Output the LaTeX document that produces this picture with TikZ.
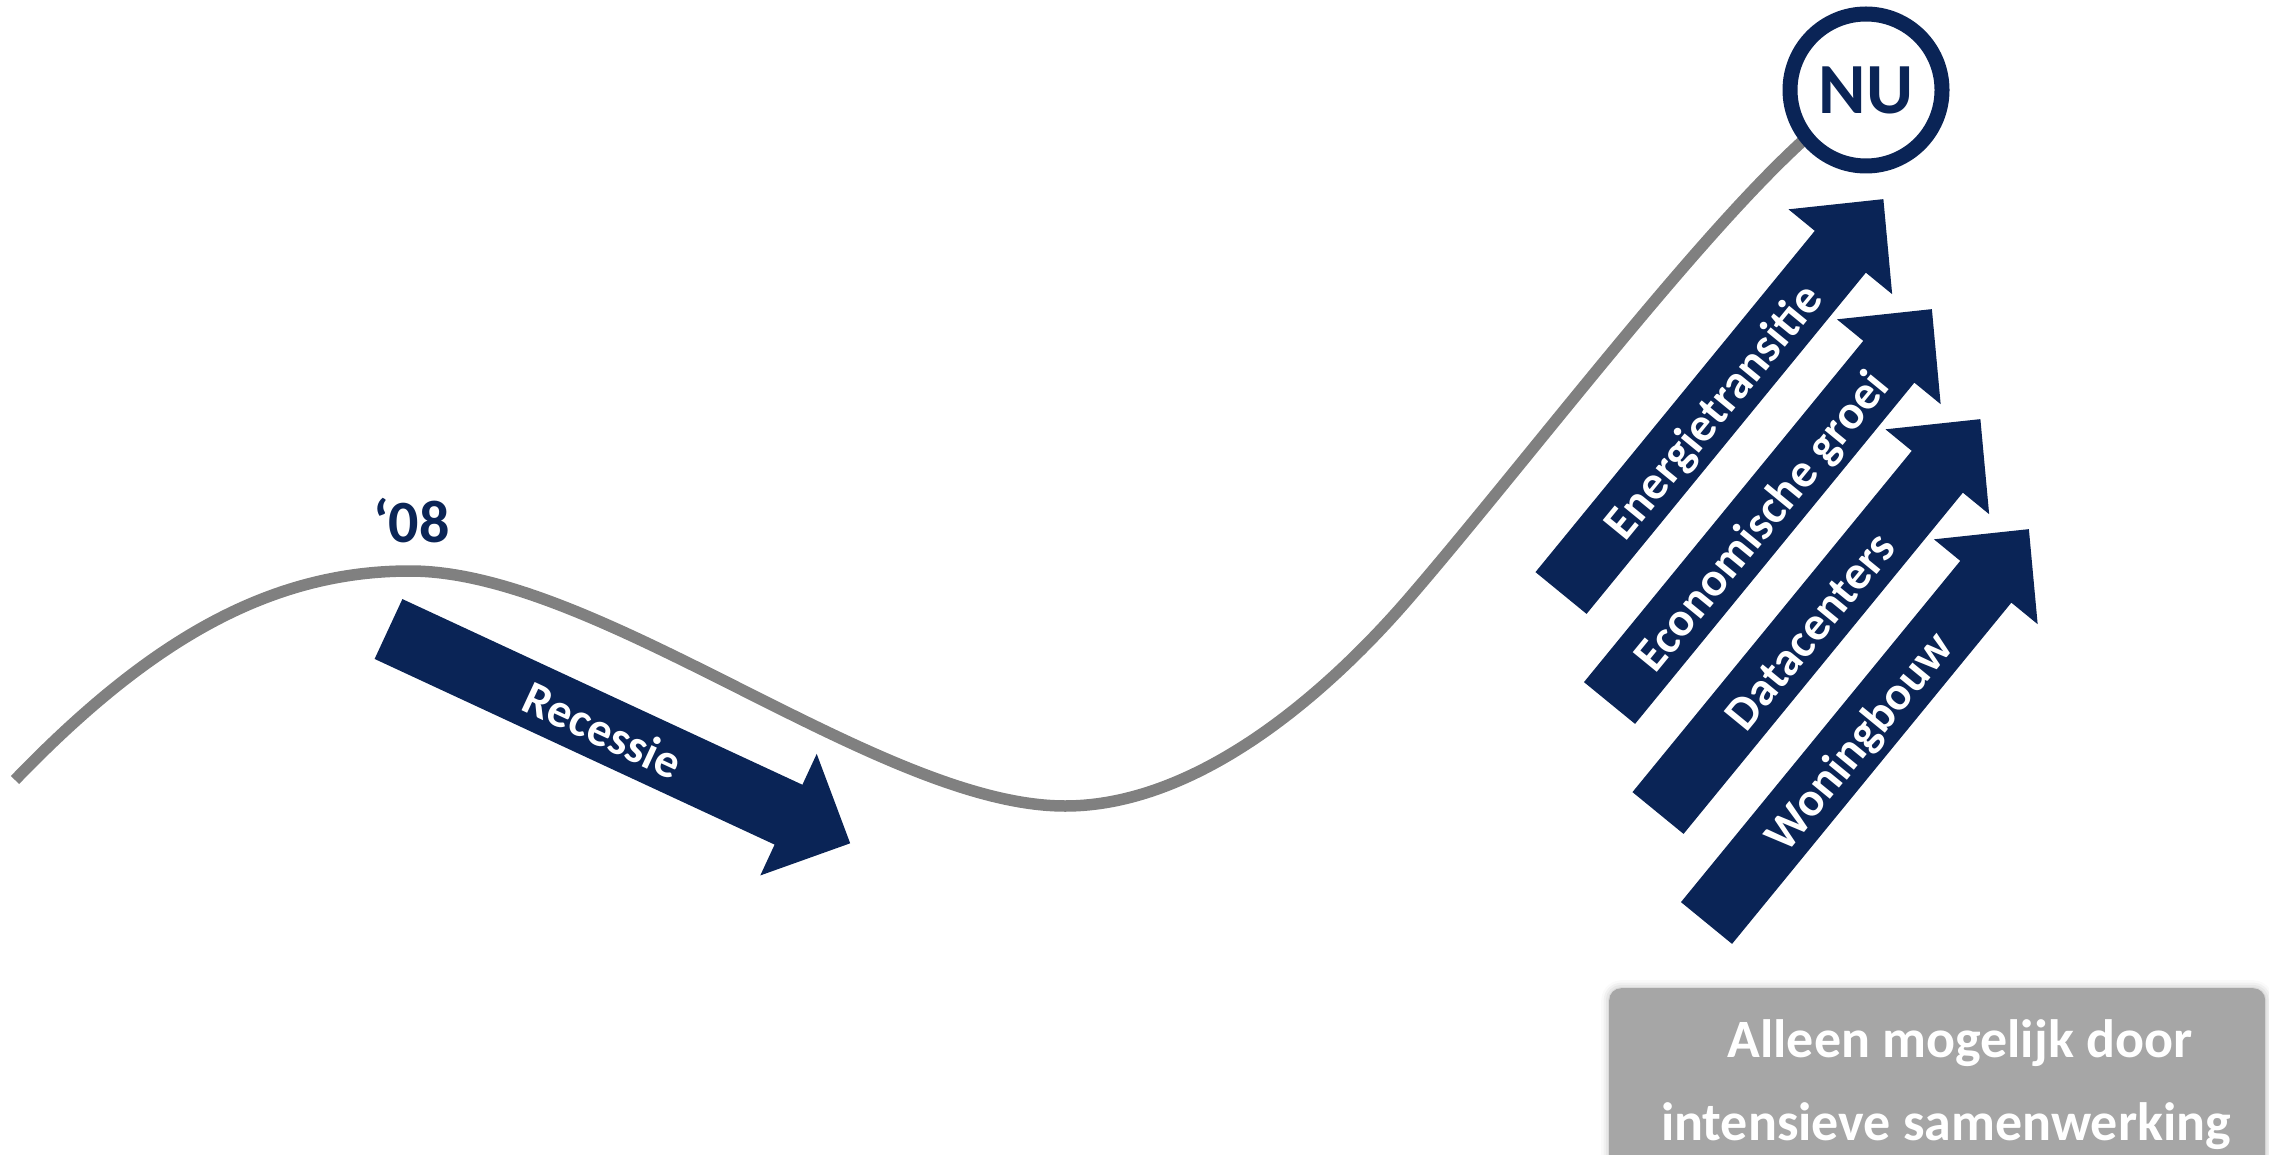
\documentclass[tikz,border=0pt]{standalone}
\usepackage{fontspec}
\setmainfont{Carlito}
\usetikzlibrary{shadows.blur}
\definecolor{navy}{HTML}{0A2456}
\definecolor{curvegray}{HTML}{808080}
\definecolor{boxgray}{HTML}{A6A6A6}
\newcommand\fatarrow[5]{%
  \begin{scope}[shift={(#2,#3)},rotate=#4]
    \fill[navy] (0,33) -- (441,33) -- (441,67) -- (509,0) -- (441,-67) -- (441,-33) -- (0,-33) -- cycle;
    \node[arrowtxt,rotate=#4] (#1) at (237,-18) {#5};
  \end{scope}}
\begin{document}
\begin{tikzpicture}[x=1pt,y=1pt,
  arrowtxt/.style={text=white,font=\bfseries\fontsize{48}{56}\selectfont,anchor=base,inner sep=0pt},
  boxtxt/.style={text=white,font=\bfseries\fontsize{54}{64}\selectfont,anchor=base,inner sep=0pt},
  curveline/.style={draw=curvegray,line width=11.5pt},
]
\useasboundingbox (0,0) rectangle (2269,-1155);
\clip (0,0) rectangle (2269,-1155);
% trend curve
\draw[curveline] (15,-780) .. controls (150,-640) and (270,-571) .. (410,-571)
  .. controls (600,-571) and (880,-806) .. (1065,-806)
  .. controls (1200,-806) and (1330,-690) .. (1410,-597)
  .. controls (1530,-457.5) and (1705,-225) .. (1815,-130);
% NU marker
\node[circle,draw=navy,line width=15pt,fill=white,minimum size=152pt,inner sep=0pt,
  text=navy,font=\bfseries\fontsize{72}{80}\selectfont] (nu) at (1866,-90) {NU};
% year label
\node[text=navy,font=\bfseries\fontsize{60}{64}\selectfont,anchor=base,inner sep=0pt] (y08) at (411.5,-542) {‘08};
% arrows
\fatarrow{recessie}{388.5}{-629}{-24.9}{Recessie}
\fatarrow{energie}{1561}{-593}{50.7}{Energietransitie}
\fatarrow{econ}{1609.5}{-703}{50.7}{Economische groei}
\fatarrow{data}{1658}{-813}{50.7}{Datacenters}
\fatarrow{woning}{1706.5}{-923}{50.7}{Woningbouw}
% bottom box
\node[fill=boxgray,rounded corners=12pt,minimum width=656pt,minimum height=220pt,anchor=north west,inner sep=0pt,
  blur shadow={shadow xshift=0pt,shadow yshift=0pt,shadow blur radius=8pt,shadow opacity=30}] (box) at (1609,-988) {};
\node[boxtxt] (line1) at (1960,-1057) {Alleen mogelijk door};
\node[boxtxt] (line2) at (1946,-1140) {intensieve samenwerking};
\end{tikzpicture}
\end{document}
